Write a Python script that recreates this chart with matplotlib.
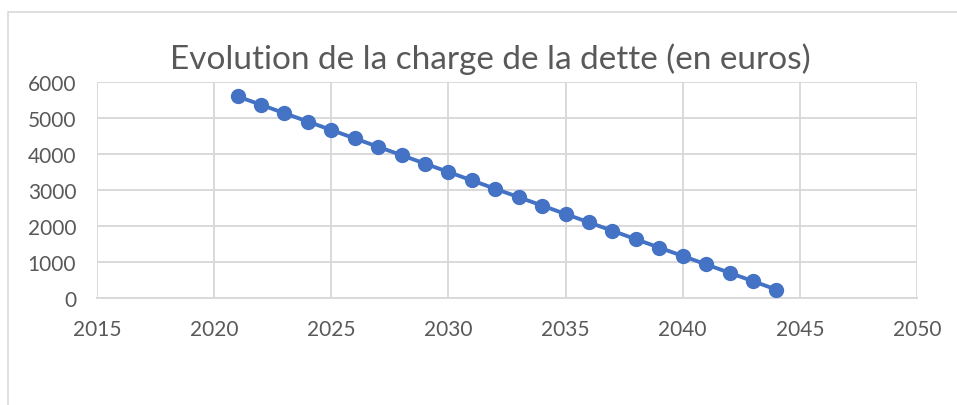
import matplotlib
matplotlib.use("Agg")
import matplotlib.pyplot as plt
from matplotlib.patches import Rectangle

# Data
years = list(range(2021, 2045))
charge = [5600, 5367, 5133, 4900, 4667, 4433, 4200, 3967, 3733, 3500,
          3267, 3033, 2800, 2567, 2333, 2100, 1867, 1633, 1400, 1167,
          933, 700, 467, 233]
x_ticks = [2015, 2020, 2025, 2030, 2035, 2040, 2045, 2050]
y_ticks = [0, 1000, 2000, 3000, 4000, 5000, 6000]
title = "Evolution de la charge de la dette (en euros)"

BLUE = "#4472C4"
GRID = "#d9d9d9"
TEXT = "#595959"
W, H = 957, 406

plt.rcParams["font.family"] = ["Lato", "DejaVu Sans"]

fig = plt.figure(figsize=(W / 100, H / 100), dpi=100)
# chart frame, Excel style
fig.patches.append(Rectangle((8 / W, -0.1), 1.2, 1 - 13 / H + 0.1,
                             transform=fig.transFigure, fill=False,
                             edgecolor=GRID, linewidth=1.2))

ax = fig.add_axes([97 / W, 1 - 299 / H, (917 - 97) / W, (299 - 83) / H])
ax.plot(years, charge, color=BLUE, linewidth=2.8, marker="o",
        markersize=10, zorder=3)

ax.set_xlim(2015, 2050)
ax.set_ylim(0, 6000)
ax.set_xticks(x_ticks)
ax.set_yticks(y_ticks)
ax.grid(True, color=GRID, linewidth=1.4)
ax.set_axisbelow(True)
for side in ("top", "right", "left"):
    ax.spines[side].set_visible(False)
ax.spines["bottom"].set_color(GRID)
ax.spines["bottom"].set_linewidth(1.4)
ax.tick_params(length=0, labelcolor=TEXT, labelsize=15)
ax.tick_params(axis="x", pad=15)
ax.tick_params(axis="y", pad=15)

fig.text(490 / W, 1 - 59 / H, title, ha="center", va="center",
         fontsize=24, color=TEXT)

fig.savefig("out.png", dpi=100)
